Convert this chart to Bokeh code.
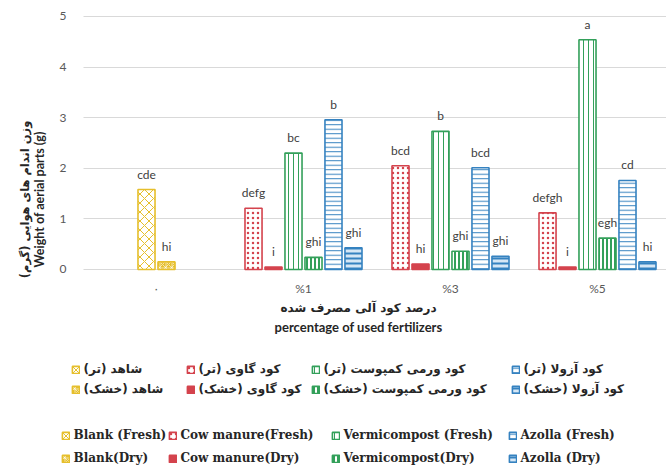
import math
from bokeh.plotting import figure
from bokeh.models import ColumnDataSource, Legend, LegendItem, Label, FixedTicker, Range1d, Grid
from bokeh.embed import file_html
from bokeh.resources import INLINE
from bokeh.core.properties import value

# ---------------- data ----------------
categories = ["٠", "%1", "%3", "%5"]
y_ticks = [0, 1, 2, 3, 4, 5]
blank_fresh = [1.58]
blank_dry = [0.15]
cow_fresh = [1.21, 2.05, 1.12]
cow_dry = [0.05, 0.11, 0.05]
verm_fresh = [2.30, 2.73, 4.54]
verm_dry = [0.24, 0.36, 0.62]
azolla_fresh = [2.96, 2.01, 1.76]
azolla_dry = [0.43, 0.26, 0.15]

let_blank_fresh = ["cde"]
let_blank_dry = ["hi"]
let_cow_fresh = ["defg", "bcd", "defgh"]
let_cow_dry = ["i", "hi", "i"]
let_verm_fresh = ["bc", "b", "a"]
let_verm_dry = ["ghi", "ghi", "egh"]
let_azolla_fresh = ["b", "bcd", "cd"]
let_azolla_dry = ["ghi", "ghi", "hi"]

names_fa = ["شاهد (تر)", "شاهد (خشک)", "کود گاوی (تر)", "کود گاوی (خشک)",
            "کود ورمی کمپوست (تر)", "کود ورمی کمپوست (خشک)", "کود آزولا (تر)", "کود آزولا (خشک)"]
names_en = ["Blank (Fresh)", "Blank(Dry)", "Cow manure(Fresh)", "Cow manure(Dry)",
            "Vermicompost (Fresh)", "Vermicompost(Dry)", "Azolla (Fresh)", "Azolla (Dry)"]

y_title_fa = "وزن اندام های هوایی (گرم)"
y_title_en = "Weight of aerial parts (g)"
x_title_fa = "درصد کود آلی مصرف شده"
x_title_en = "percentage of used fertilizers"

# ---------------- style ----------------
YEL = "#E6BF2C"
RED = "#D4434D"
GRN = "#33A05A"
BLU = "#3582C0"
RLM = "\u200f"

W, H = 666, 475
X0, X1 = -1.0612, 3.4694      # visible x extent (category units)
Y0, Y1 = -4.071, 5.316        # visible y extent
GRID_X0 = -0.497              # left end of plot area

p = figure(width=W, height=H, output_backend="svg", toolbar_location=None,
           x_range=Range1d(X0, X1), y_range=Range1d(Y0, Y1),
           x_axis_type=None, y_axis_type=None)
p.min_border = 0
p.min_border_left = 0
p.min_border_right = 0
p.min_border_top = 0
p.min_border_bottom = 0
p.outline_line_color = None
p.background_fill_color = "white"
p.border_fill_color = "white"

grid = Grid(dimension=1, ticker=FixedTicker(ticks=y_ticks), grid_line_color="#D9D9D9", grid_line_width=1)
try:
    grid.cross_bounds = (GRID_X0, X1)
except Exception:
    pass
p.add_layout(grid)

# y tick labels
p.text(x=[GRID_X0] * len(y_ticks), y=y_ticks, text=[str(t) for t in y_ticks],
       x_offset=-17, text_align="right", text_baseline="middle",
       text_font=value("Lato"), text_font_size="12px", text_color="#595959")
# category labels
p.text(x=list(range(len(categories))), y=[0] * len(categories), text=categories,
       y_offset=19, text_align="center", text_baseline="middle",
       text_font=value("Lato"), text_font_size="12px", text_color="#595959")

BW = 0.116
STEP = 0.136

renderers = {}
specs = [
    ("blank_fresh", blank_fresh, let_blank_fresh, [0], -0.5,
     dict(fill_color="white", line_color=YEL, hatch_pattern="x", hatch_color=YEL, hatch_scale=9, hatch_weight=1)),
    ("blank_dry", blank_dry, let_blank_dry, [0], 0.5,
     dict(fill_color=YEL, line_color=YEL, hatch_pattern="*", hatch_color="white", hatch_scale=6, hatch_weight=1, hatch_alpha=0.6)),
    ("cow_fresh", cow_fresh, let_cow_fresh, [1, 2, 3], -2.5,
     dict(fill_color="white", line_color=RED, hatch_pattern=".", hatch_color=RED, hatch_scale=5, hatch_weight=0.5)),
    ("cow_dry", cow_dry, let_cow_dry, [1, 2, 3], -1.5,
     dict(fill_color=RED, line_color=RED)),
    ("verm_fresh", verm_fresh, let_verm_fresh, [1, 2, 3], -0.5,
     dict(fill_color="white", line_color=GRN, hatch_pattern="|", hatch_color=GRN, hatch_scale=5, hatch_weight=1)),
    ("verm_dry", verm_dry, let_verm_dry, [1, 2, 3], 0.5,
     dict(fill_color="white", line_color=GRN, hatch_pattern="|", hatch_color=GRN, hatch_scale=4, hatch_weight=2)),
    ("azolla_fresh", azolla_fresh, let_azolla_fresh, [1, 2, 3], 1.5,
     dict(fill_color="white", line_color=BLU, hatch_pattern="-", hatch_color=BLU, hatch_scale=4.5, hatch_weight=1)),
    ("azolla_dry", azolla_dry, let_azolla_dry, [1, 2, 3], 2.5,
     dict(fill_color="#D6E7F5", line_color=BLU, hatch_pattern="-", hatch_color=BLU, hatch_scale=5, hatch_weight=2)),
]

for name, vals, lets, groups, slot, style in specs:
    xs = [g + slot * STEP for g in groups]
    src = ColumnDataSource(dict(x=xs, top=vals, lab=lets))
    r = p.vbar(x="x", top="top", bottom=0, width=BW, source=src, line_width=1.6, **style)
    renderers[name] = r
    p.text(x="x", y="top", text="lab", source=src, text_align="center", text_baseline="bottom",
           y_offset=-8, text_font=value("Lato"), text_font_size="12px", text_color="#404040")

# ---------------- legends (screen positions from frame bottom-left) ----------------
def add_entry(r, label, sq_cx, yc, font, size):
    h = 14
    leg = Legend(items=[LegendItem(label=label, renderers=[r])],
                 location=(sq_cx - 4.5, H - yc - h / 2),
                 orientation="horizontal", padding=0, margin=0, spacing=0,
                 glyph_width=9, glyph_height=9, label_height=h, label_standoff=4,
                 label_text_font=font, label_text_font_size=size,
                 label_text_font_style="bold",
                 label_text_color="#262626",
                 background_fill_alpha=0, border_line_alpha=0)
    p.add_layout(leg, "center")

order = ["blank", "cow", "verm", "azolla"]
fa_x = [75, 190, 315, 515]
en_x = [65, 172, 335, 512]
for i, k in enumerate(order):
    add_entry(renderers[k + "_fresh"], names_fa[2 * i] + RLM, fa_x[i], 369, "DejaVu Sans", "12px")
    add_entry(renderers[k + "_dry"], names_fa[2 * i + 1] + RLM, fa_x[i], 389, "DejaVu Sans", "12px")
    add_entry(renderers[k + "_fresh"], names_en[2 * i], en_x[i], 435, "DejaVu Serif", "12px")
    add_entry(renderers[k + "_dry"], names_en[2 * i + 1], en_x[i], 458, "DejaVu Serif", "12px")

# ---------------- axis titles ----------------
def lab(text, ix, iy, angle=0, size="12px", font="Lato"):
    p.add_layout(Label(x=ix, y=H - iy, x_units="screen", y_units="screen",
                       text=text, angle=angle, text_align="center", text_baseline="middle",
                       text_font=font, text_font_size=size, text_font_style="bold",
                       text_color="#262626"))

lab(y_title_fa + RLM, 24, 199, angle=math.pi / 2, font="DejaVu Sans", size="11.5px")
lab(y_title_en, 39, 199, angle=math.pi / 2, size="12.5px")
lab(x_title_fa, 358, 307, font="DejaVu Sans", size="12px")
lab(x_title_en, 358, 326, size="13px")

open("out.html", "w").write(file_html(p, INLINE))
